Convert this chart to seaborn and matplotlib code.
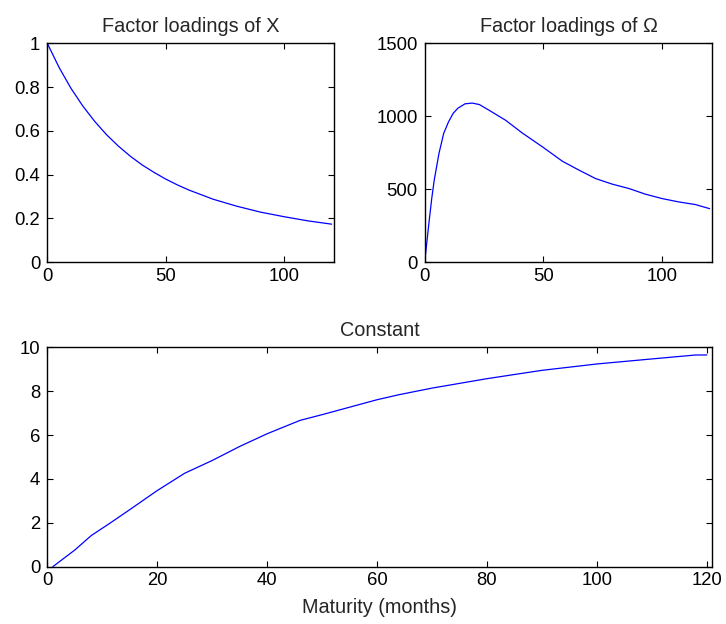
import matplotlib
matplotlib.use("Agg")
import matplotlib.pyplot as plt
import seaborn as sns
import pandas as pd

# Factor loadings of X
x_mat = [0, 5, 10, 15, 20, 25, 30, 35, 40, 45, 50, 55, 60, 70, 80, 90, 100, 110, 120]
x_load = [1.0, 0.889, 0.794, 0.713, 0.643, 0.582, 0.530, 0.484, 0.444, 0.410,
          0.379, 0.352, 0.328, 0.287, 0.255, 0.228, 0.207, 0.188, 0.173]

# Factor loadings of Omega
om_mat = [0, 1, 2, 3, 4, 6, 8, 10, 12, 14, 17, 20, 23, 27, 34, 41, 50, 58, 65,
          72, 79, 86, 93, 100, 107, 114, 120]
om_load = [0, 150, 300, 440, 560, 744, 882, 960, 1020, 1055, 1085, 1090, 1080,
           1042, 973, 886, 785, 691, 630, 572, 534, 504, 465, 435, 412, 394, 366]

# Constant
c_mat = [1, 5, 8, 11.5, 15, 20, 25, 30, 35, 40, 46, 50, 60, 64, 70, 80, 90, 100,
         110, 118, 120]
c_val = [0.0, 0.76, 1.42, 2.0, 2.6, 3.47, 4.26, 4.84, 5.48, 6.06, 6.67, 6.93,
         7.61, 7.84, 8.14, 8.57, 8.95, 9.24, 9.47, 9.65, 9.65]

sns.set_theme(style="white")
plt.rcParams["font.family"] = ["Liberation Sans", "DejaVu Sans"]
plt.rcParams["mathtext.fontset"] = "custom"
plt.rcParams["mathtext.rm"] = "Liberation Sans"

fig = plt.figure(figsize=(7.26, 6.24), dpi=100)
W, H = 726, 624

def box(l, t, r, b):
    return [l / W, 1 - b / H, (r - l) / W, (b - t) / H]

ax1 = fig.add_axes(box(47.3, 43.3, 334, 262))
ax2 = fig.add_axes(box(424.7, 43.3, 712, 262))
ax3 = fig.add_axes(box(47.3, 347.3, 712.3, 566.7))

blue = "#0000ff"
sns.lineplot(data=pd.DataFrame({"m": x_mat, "v": x_load}), x="m", y="v", ax=ax1,
             color=blue, linewidth=0.9)
sns.lineplot(data=pd.DataFrame({"m": om_mat, "v": om_load}), x="m", y="v", ax=ax2,
             color=blue, linewidth=0.9)
sns.lineplot(data=pd.DataFrame({"m": c_mat, "v": c_val}), x="m", y="v", ax=ax3,
             color=blue, linewidth=0.9)

TFS = 14.3
ax1.set_xlim(0, 121); ax1.set_ylim(0, 1)
ax1.set_xticks([0, 50, 100]); ax1.set_yticks([0, 0.2, 0.4, 0.6, 0.8, 1])
ax1.set_yticklabels(["0", "0.2", "0.4", "0.6", "0.8", "1"])
ax1.set_title("Factor loadings of X", fontsize=TFS, pad=8)

ax2.set_xlim(0, 121); ax2.set_ylim(0, 1500)
ax2.set_xticks([0, 50, 100]); ax2.set_yticks([0, 500, 1000, 1500])
ax2.set_title(r"Factor loadings of $\Omega$", fontsize=TFS, pad=8)

ax3.set_xlim(0, 121); ax3.set_ylim(0, 10)
ax3.set_xticks([0, 20, 40, 60, 80, 100, 120]); ax3.set_yticks([0, 2, 4, 6, 8, 10])
ax3.set_title("Constant", fontsize=TFS, pad=8)
ax3.set_xlabel("Maturity (months)", fontsize=TFS, labelpad=6)

for ax in (ax1, ax2, ax3):
    if ax is not ax3:
        ax.set_xlabel("")
    ax.set_ylabel("")
    for s in ax.spines.values():
        s.set_color("black")
        s.set_linewidth(1.0)
        s.set_visible(True)
    ax.tick_params(direction="in", length=4, width=0.8, color="black",
                   top=True, right=True, bottom=True, left=True,
                   labelsize=13.3, labelcolor="black")
    ax.tick_params(axis="x", pad=4)
    ax.tick_params(axis="y", pad=5)

fig.savefig("out.png", dpi=100, facecolor="white")
